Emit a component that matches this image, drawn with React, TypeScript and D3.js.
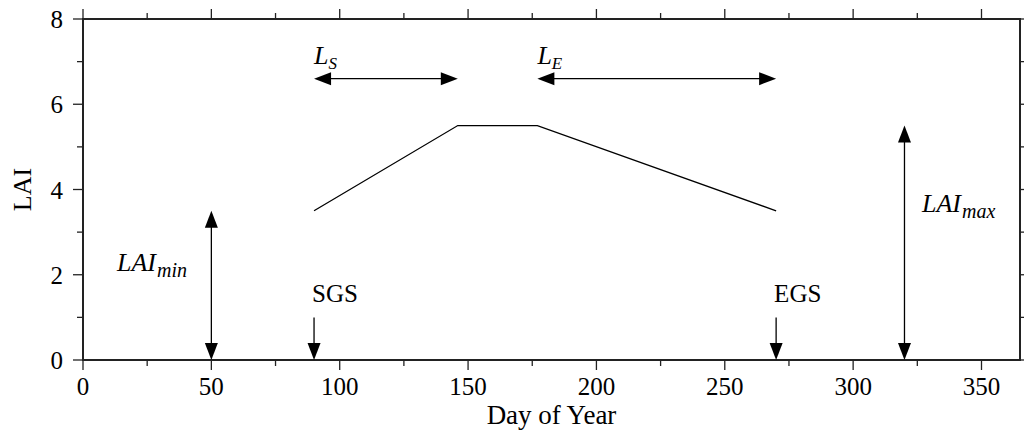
import React from 'react';
import * as d3 from 'd3';

// LAI curve vertices (day of year, LAI)
const curveDays = [90, 146, 177, 270];
const curveLai = [3.5, 5.5, 5.5, 3.5];

const xTicks = [0, 50, 100, 150, 200, 250, 300, 350];
const yTicks = [0, 2, 4, 6, 8];

// annotation arrows
const lsArrow = { from: 90, to: 146, lai: 6.6 };
const leArrow = { from: 177, to: 270, lai: 6.6 };
const laiMinArrow = { day: 50, top: 3.5 };
const laiMaxArrow = { day: 320, top: 5.5 };
const sgsArrow = { day: 90, top: 1.0 };
const egsArrow = { day: 270, top: 1.0 };

const W = 1024;
const H = 432;
const margin = { top: 19, right: 4, bottom: 72, left: 83 };

const serif = '"Liberation Serif", "DejaVu Serif", serif';

const Head = ({ x, y, dir }: { x: number; y: number; dir: 'up' | 'down' | 'left' | 'right' }) => {
  const L = 17;
  const w = 6.5;
  let pts = '';
  if (dir === 'down') pts = `${x},${y} ${x - w},${y - L} ${x + w},${y - L}`;
  if (dir === 'up') pts = `${x},${y} ${x - w},${y + L} ${x + w},${y + L}`;
  if (dir === 'left') pts = `${x},${y} ${x + L},${y - w} ${x + L},${y + w}`;
  if (dir === 'right') pts = `${x},${y} ${x - L},${y - w} ${x - L},${y + w}`;
  return <polygon points={pts} fill="#000" />;
};

const App = () => {
  const x = d3.scaleLinear().domain([0, 365]).range([margin.left, W - margin.right]);
  const y = d3.scaleLinear().domain([0, 8]).range([H - margin.bottom, margin.top]);

  const x0 = x(0);
  const x1 = x(365);
  const y0 = y(0);
  const y1 = y(8);

  const line = d3
    .line<number>()
    .x((d, i) => x(curveDays[i]))
    .y((d) => y(d));

  const minorX = d3.range(0, 366, 25);
  const minorY = d3.range(0, 9, 1);

  const hArrow = (a: { from: number; to: number; lai: number }) => (
    <g>
      <line x1={x(a.from) + 10} x2={x(a.to) - 10} y1={y(a.lai)} y2={y(a.lai)} stroke="#000" strokeWidth={1.3} />
      <Head x={x(a.from)} y={y(a.lai)} dir="left" />
      <Head x={x(a.to)} y={y(a.lai)} dir="right" />
    </g>
  );

  const vArrow = (day: number, top: number, both: boolean) => (
    <g>
      <line x1={x(day)} x2={x(day)} y1={y(top) + (both ? 10 : 0)} y2={y0 - 10} stroke="#000" strokeWidth={1.3} />
      {both && <Head x={x(day)} y={y(top)} dir="up" />}
      <Head x={x(day)} y={y0} dir="down" />
    </g>
  );

  return (
    <svg width={W} height={H} style={{ position: 'absolute', left: 0, top: 0, background: '#fff' }} fontFamily={serif}>
      {/* minor / major ticks, outward on all sides */}
      {minorX.map((t) => {
        const major = t % 50 === 0;
        const len = major ? 10 : 6;
        return (
          <g key={'x' + t} stroke="#222" strokeWidth={1.3}>
            <line x1={x(t)} x2={x(t)} y1={y0} y2={y0 + len} />
            <line x1={x(t)} x2={x(t)} y1={y1} y2={y1 - len} />
          </g>
        );
      })}
      {minorY.map((t) => {
        const major = t % 2 === 0;
        const len = major ? 10 : 6;
        return (
          <g key={'y' + t} stroke="#222" strokeWidth={1.3}>
            <line x1={x0} x2={x0 - len} y1={y(t)} y2={y(t)} />
            <line x1={x1} x2={x1 + len} y1={y(t)} y2={y(t)} />
          </g>
        );
      })}
      <rect x={x0} y={y1} width={x1 - x0} height={y0 - y1} fill="none" stroke="#222" strokeWidth={2} />

      {xTicks.map((t) => (
        <text key={'xl' + t} x={x(t)} y={y0 + 35} textAnchor="middle" fontSize={25} fill="#000">
          {t}
        </text>
      ))}
      {yTicks.map((t) => (
        <text key={'yl' + t} x={x0 - 20} y={y(t) + 9} textAnchor="end" fontSize={25} fill="#000">
          {t}
        </text>
      ))}

      <text x={(x0 + x1) / 2} y={424} textAnchor="middle" fontSize={27} fill="#000">
        Day of Year
      </text>
      <text transform={`translate(31,${(y0 + y1) / 2}) rotate(-90)`} textAnchor="middle" fontSize={26} fill="#000">
        LAI
      </text>

      <path d={line(curveLai) ?? ''} fill="none" stroke="#000" strokeWidth={1.3} />

      {hArrow(lsArrow)}
      {hArrow(leArrow)}
      {vArrow(laiMinArrow.day, laiMinArrow.top, true)}
      {vArrow(laiMaxArrow.day, laiMaxArrow.top, true)}
      {vArrow(sgsArrow.day, sgsArrow.top, false)}
      {vArrow(egsArrow.day, egsArrow.top, false)}

      <text x={x(lsArrow.from)} y={y(lsArrow.lai) - 15} fontSize={26} fontStyle="italic" fill="#000">
        L<tspan fontSize={17} dy={5}>S</tspan>
      </text>
      <text x={x(leArrow.from)} y={y(leArrow.lai) - 15} fontSize={26} fontStyle="italic" fill="#000">
        L<tspan fontSize={17} dy={5}>E</tspan>
      </text>
      <text x={117} y={271} fontSize={26} fontStyle="italic" fill="#000">
        LAI<tspan fontSize={20} dy={6} dx={1}>min</tspan>
      </text>
      <text x={922} y={212} fontSize={26} fontStyle="italic" fill="#000">
        LAI<tspan fontSize={20} dy={6} dx={1}>max</tspan>
      </text>
      <text x={x(sgsArrow.day) - 2} y={302} fontSize={25} fill="#000">
        SGS
      </text>
      <text x={x(egsArrow.day) - 2} y={302} fontSize={25} fill="#000">
        EGS
      </text>
    </svg>
  );
};

export default App;
